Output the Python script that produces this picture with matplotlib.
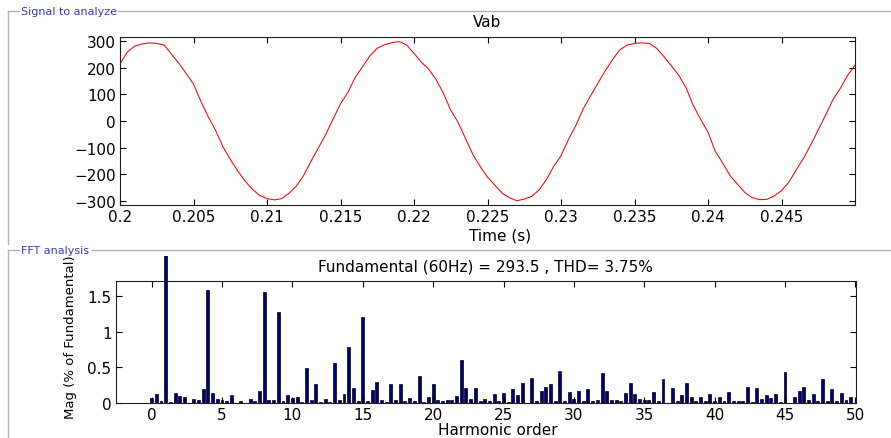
import numpy as np
import matplotlib
matplotlib.use("Agg")
import matplotlib.pyplot as plt
from matplotlib.lines import Line2D
from matplotlib.transforms import Bbox, TransformedBbox

plt.rcParams['font.family'] = ['DejaVu Sans']

# signal Vab, sampled every 0.5 ms from 0.2 s to 0.25 s
t_start = 0.2
t_step = 0.0005
vab = [214, 258, 280, 288, 292, 290, 284, 250, 216, 178,
       138, 74, 16, -35, -96, -143, -186, -224, -255, -278,
       -290, -295, -290, -270, -243, -203, -150, -100, -50, 8,
       64, 107, 163, 203, 244, 272, 285, 293, 297, 284,
       253, 220, 194, 155, 104, 40, -5, -65, -125, -170,
       -210, -240, -270, -287, -298, -292, -282, -258, -220, -170,
       -130, -70, -18, 44, 93, 140, 187, 229, 266, 284,
       290, 292, 290, 272, 241, 207, 172, 125, 58, 6,
       -42, -114, -157, -204, -236, -267, -286, -294, -293, -280,
       -260, -229, -183, -139, -88, -33, 22, 80, 122, 171,
       208]

# FFT magnitudes (% of fundamental), one bin every 1/3 harmonic
mag = [0.075, 0.125, 0.03, 100.0, 0.015, 0.145, 0.107, 0.09, 0.01, 0.065,
       0.04, 0.195, 1.575, 0.145, 0.06, 0.047, 0.037, 0.116, 0.005, 0.035,
       0.01, 0.065, 0.03, 0.175, 1.55, 0.05, 0.05, 1.27, 0.035, 0.115,
       0.075, 0.095, 0.025, 0.49, 0.05, 0.265, 0.025, 0.06, 0.02, 0.56,
       0.05, 0.125, 0.78, 0.215, 0.03, 1.21, 0.03, 0.185, 0.30, 0.04,
       0.025, 0.265, 0.045, 0.265, 0.03, 0.075, 0.03, 0.38, 0.015, 0.085,
       0.275, 0.046, 0.028, 0.046, 0.046, 0.107, 0.61, 0.21, 0.065, 0.21,
       0.028, 0.056, 0.028, 0.125, 0.028, 0.14, 0.02, 0.2, 0.116, 0.28,
       0.005, 0.36, 0.028, 0.176, 0.223, 0.265, 0.028, 0.455, 0.037, 0.158,
       0.065, 0.176, 0.037, 0.2, 0.028, 0.046, 0.42, 0.176, 0.046, 0.046,
       0.028, 0.144, 0.28, 0.125, 0.065, 0.046, 0.046, 0.158, 0.037, 0.334,
       0.005, 0.213, 0.028, 0.116, 0.283, 0.084, 0.028, 0.093, 0.028, 0.135,
       0.037, 0.084, 0.028, 0.158, 0.028, 0.028, 0.037, 0.223, 0.019, 0.214,
       0.056, 0.116, 0.074, 0.125, 0.019, 0.43, 0.005, 0.093, 0.167, 0.223,
       0.046, 0.125, 0.028, 0.334, 0.037, 0.204, 0.037, 0.144, 0.046, 0.093,
       0.0]

time_ticks = [0.2, 0.205, 0.21, 0.215, 0.22, 0.225, 0.23, 0.235, 0.24, 0.245]
time_labels = ['0.2', '0.205', '0.21', '0.215', '0.22', '0.225', '0.23', '0.235', '0.24', '0.245']
vab_ticks = [-300, -200, -100, 0, 100, 200, 300]
harm_ticks = [0, 5, 10, 15, 20, 25, 30, 35, 40, 45, 50]
mag_ticks = [0, 0.5, 1, 1.5]
mag_labels = ['0', '0.5', '1', '1.5']

t = t_start + t_step * np.arange(len(vab))
harm = np.arange(len(mag)) / 3.0

fig = plt.figure(figsize=(8.91, 4.39), dpi=100)
fig.patch.set_facecolor('white')

FS = 11

def style_axes(ax):
    ax.tick_params(direction='in', top=True, right=True, length=4.5, width=0.8,
                   labelsize=FS, pad=3)
    for s in ax.spines.values():
        s.set_linewidth(0.8)
        s.set_color('#202020')

# top panel: signal
ax1 = fig.add_axes([0.1347, 0.5314, 0.8249, 0.3814])
ax1.plot(t, vab, color='red', lw=0.75)
ax1.set_xlim(0.2, 0.25)
ax1.set_ylim(-313, 313)
ax1.set_xticks(time_ticks)
ax1.set_xticklabels(time_labels)
ax1.set_yticks(vab_ticks)
ax1.set_title('Vab', fontsize=FS, pad=8)
ax1.set_xlabel('Time (s)', fontsize=FS)
ax1.xaxis.set_label_coords(0.517, -0.135)
style_axes(ax1)

# bottom panel: FFT
ax2 = fig.add_axes([0.1299, 0.0790, 0.8309, 0.2793])
bars = ax2.bar(harm, mag, width=0.21, color='#000080', edgecolor='black', linewidth=0.5)
ax2.set_xlim(-2.55, 50.05)
ax2.set_ylim(0, 1.71)
ax2.set_xticks(harm_ticks)
ax2.set_yticks(mag_ticks)
ax2.set_yticklabels(mag_labels)
ax2.set_title('Fundamental (60Hz) = 293.5 , THD= 3.75%', fontsize=FS, pad=7)
ax2.set_xlabel('Harmonic order', fontsize=FS)
ax2.xaxis.set_label_coords(0.516, -0.155)
ax2.set_ylabel('Mag (% of Fundamental)', fontsize=9.5)
ax2.yaxis.set_label_coords(-0.052, 0.545)
style_axes(ax2)

# the fundamental bar runs past the top of the axes, up to the panel title
big = bars[int(np.argmax(mag))]
big.set_clip_path(None)
big.set_clip_box(TransformedBbox(Bbox([[0, 0], [1, 1.2]]), ax2.transAxes))

# group box frames
W, H = 891.0, 439.0
box_col = '#b4b4b4'
lab_col = '#3838c8'

def fx(px):
    return px / W

def fy(py):
    return 1 - py / H

fig.add_artist(Line2D([fx(8), fx(8)], [fy(12), fy(245)], color=box_col, lw=1.0))
fig.add_artist(Line2D([fx(8), fx(19)], [fy(12), fy(12)], color=box_col, lw=1.0))
fig.add_artist(Line2D([fx(118), 1], [fy(12), fy(12)], color=box_col, lw=1.0))
fig.text(fx(21), fy(12), 'Signal to analyze', color=lab_col, fontsize=8, va='center', ha='left')

fig.add_artist(Line2D([fx(8), fx(8)], [fy(251), 0], color=box_col, lw=1.0))
fig.add_artist(Line2D([fx(8), fx(19)], [fy(251), fy(251)], color=box_col, lw=1.0))
fig.add_artist(Line2D([fx(92), 1], [fy(251), fy(251)], color=box_col, lw=1.0))
fig.text(fx(21), fy(251), 'FFT analysis', color=lab_col, fontsize=8, va='center', ha='left')

fig.savefig('out.png', dpi=100)
